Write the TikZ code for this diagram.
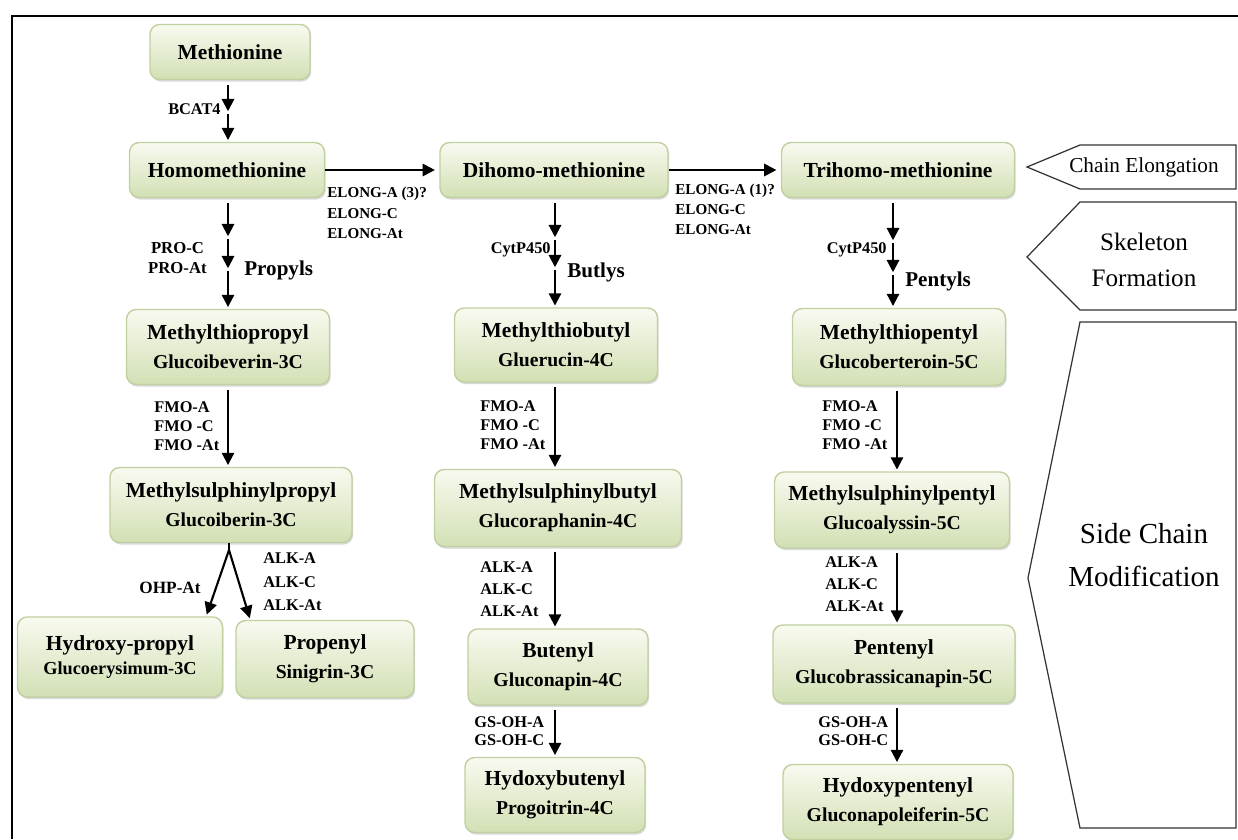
\documentclass[tikz,border=0pt]{standalone}
\usepackage{fontspec}
\setmainfont{Liberation Serif}
\definecolor{boxtop}{RGB}{248, 250, 240}
\definecolor{boxbottom}{RGB}{210, 224, 180}
\definecolor{boxline}{RGB}{192, 208, 160}
\usepackage{tikz}
\usetikzlibrary{arrows.meta, positioning, shadows}

\tikzset{
  compound/.style={draw=boxline, line width=0.8pt, rounded corners=5.5pt, top color=boxtop, bottom color=boxbottom,
    drop shadow={shadow xshift=0.7pt, shadow yshift=-1.2pt, opacity=0.3}, align=center, inner sep=0pt,
    font=\bfseries\fontsize{12.2}{16.5}\selectfont},
  flow/.style={-{Triangle[length=7pt, width=7pt]}, line width=1.2pt, shorten <=2.5pt, shorten >=1pt},
  enzyme/.style={font=\bfseries\fontsize{9.3}{11}\selectfont, align=left, inner sep=0pt},
  group/.style={font=\bfseries\fontsize{12}{14}\selectfont, inner sep=0pt},
  stage/.style={draw=black!80, line width=0.7pt, fill=white},
}
\newcommand{\glsname}[1]{\\{\fontsize{11.2}{16.5}\selectfont #1}}

\begin{document}
\begin{tikzpicture}[x=0.02cm, y=-0.02cm]
  \useasboundingbox (0,0) rectangle (1238,839);
  % Frame
  \draw[line width=1.2pt] (1238,16) -- (12,16) -- (12,839);

  % Columns of the pathway
  \coordinate (col1) at (228,0);
  \coordinate (col2) at (555,0);
  \coordinate (col3) at (897,0);

  % Chain elongation
  \node[compound, minimum width=3.2cm, minimum height=1.1cm] (meth) at (230,52) {Methionine};
  \node[compound, minimum width=3.9cm, minimum height=1.1cm] (homo) at (227,170) {Homomethionine};
  \node[compound, minimum width=4.56cm, minimum height=1.1cm] (dihomo) at (554,170) {Dihomo-methionine};
  \node[compound, minimum width=4.66cm, minimum height=1.1cm] (trihomo) at (898,170) {Trihomo-methionine};

  \coordinate (bc) at (228,113);
  \draw[flow] (meth.south -| bc) -- (bc);
  \draw[flow, shorten <=0.5pt] (bc) -- (homo.north -| bc);
  \node[enzyme, anchor=east] (bcat) at (221,109) {BCAT4};

  \draw[flow, shorten <=0pt, shorten >=2.5pt] (homo) -- (dihomo);
  \draw[flow, shorten <=0pt, shorten >=2.5pt] (dihomo) -- (trihomo);
  \node[enzyme, anchor=west, font=\bfseries\fontsize{8.6}{11.8}\selectfont] (elong1) at (327,213) {ELONG-A (3)?\\ELONG-C\\ELONG-At};
  \node[enzyme, anchor=west, font=\bfseries\fontsize{8.6}{11.3}\selectfont] (elong2) at (675,209) {ELONG-A (1)?\\ELONG-C\\ELONG-At};

  % Skeleton formation
  \node[compound, minimum width=4.06cm, minimum height=1.5cm] (mtpropyl) at (228,347) {Methylthiopropyl\glsname{Glucoibeverin-3C}};
  \node[compound, minimum width=4.06cm, minimum height=1.48cm] (mtbutyl) at (556,345) {Methylthiobutyl\glsname{Gluerucin-4C}};
  \node[compound, minimum width=4.26cm, minimum height=1.54cm] (mtpentyl) at (899,347) {Methylthiopentyl\glsname{Glucoberteroin-5C}};

  \coordinate (p1) at (228,238);
  \coordinate (p2) at (228,270);
  \draw[flow] (homo.south -| p1) -- (p1);
  \draw[flow, shorten <=0.5pt] (p1) -- (p2);
  \draw[flow, shorten <=0.5pt] (p2) -- (mtpropyl.north -| p2);
  \node[enzyme, align=center, anchor=east, font=\bfseries\fontsize{9.5}{11.3}\selectfont] (pro) at (207,258) {PRO-C\\PRO-At};
  \node[group, anchor=west] (propyls) at (244,270) {Propyls};

  \coordinate (q1) at (555,239);
  \coordinate (q2) at (555,269);
  \draw[flow] (dihomo.south -| q1) -- (q1);
  \draw[flow, shorten <=0.5pt] (q1) -- (q2);
  \draw[flow, shorten <=0.5pt] (q2) -- (mtbutyl.north -| q2);
  \node[enzyme, anchor=east] (cyp1) at (551,250) {CytP450};
  \node[group, anchor=west] (butlys) at (567,272) {Butlys};

  \coordinate (r1) at (893,242);
  \coordinate (r2) at (893,274);
  \draw[flow] (trihomo.south -| r1) -- (r1);
  \draw[flow, shorten <=0.5pt] (r1) -- (r2);
  \draw[flow, shorten <=0.5pt] (r2) -- (mtpentyl.north -| r2);
  \node[enzyme, anchor=east] (cyp2) at (887,250) {CytP450};
  \node[group, anchor=west] (pentyls) at (905,281) {Pentyls};

  % Side chain modification
  \node[compound, minimum width=4.84cm, minimum height=1.5cm] (mspropyl) at (231,505) {Methylsulphinylpropyl\glsname{Glucoiberin-3C}};
  \node[compound, minimum width=4.94cm, minimum height=1.54cm] (msbutyl) at (558,508) {Methylsulphinylbutyl\glsname{Glucoraphanin-4C}};
  \node[compound, minimum width=4.7cm, minimum height=1.52cm] (mspentyl) at (892,510) {Methylsulphinylpentyl\glsname{Glucoalyssin-5C}};

  \draw[flow] (mtpropyl.south -| col1) -- (mspropyl.north -| col1);
  \draw[flow] (mtbutyl.south -| col2) -- (msbutyl.north -| col2);
  \draw[flow] (mtpentyl.south -| col3) -- (mspentyl.north -| col3);
  \node[enzyme, anchor=west, font=\bfseries\fontsize{9.3}{10.8}\selectfont] (fmo1) at (154,426) {FMO-A\\FMO -C\\FMO -At};
  \node[enzyme, anchor=west, font=\bfseries\fontsize{9.3}{10.8}\selectfont] (fmo2) at (480,425) {FMO-A\\FMO -C\\FMO -At};
  \node[enzyme, anchor=west, font=\bfseries\fontsize{9.3}{10.8}\selectfont] (fmo3) at (822,425) {FMO-A\\FMO -C\\FMO -At};

  \node[compound, minimum width=4.1cm, minimum height=1.6cm] (hydroxyp) at (120,657) {Hydroxy-propyl\\[-2.5pt]{\fontsize{10.4}{14}\selectfont Glucoerysimum-3C}};
  \node[compound, minimum width=3.56cm, minimum height=1.54cm] (propenyl) at (325,659) {Propenyl\glsname{Sinigrin-3C}};
  \node[compound, minimum width=3.6cm, minimum height=1.52cm] (butenyl) at (558,667) {Butenyl\glsname{Gluconapin-4C}};
  \node[compound, minimum width=4.84cm, minimum height=1.56cm] (pentenyl) at (894,664) {Pentenyl\glsname{Glucobrassicanapin-5C}};

  \coordinate (fork) at (229,550);
  \draw[flow, shorten <=0pt] (fork) -- ([xshift=-0.34cm]hydroxyp.north east);
  \draw[flow, shorten <=0pt] (fork) -- ([xshift=0.3cm]propenyl.north west);
  \draw[line width=1.2pt] (mspropyl.south -| fork) -- (fork);
  \node[enzyme, anchor=east, font=\bfseries\fontsize{9.8}{11}\selectfont] (ohp) at (201,588) {OHP-At};
  \node[enzyme, anchor=west, font=\bfseries\fontsize{9.3}{13.3}\selectfont] (alk1) at (263,582) {ALK-A\\ALK-C\\ALK-At};

  \draw[flow] (msbutyl.south -| col2) -- (butenyl.north -| col2);
  \draw[flow] (mspentyl.south -| col3) -- (pentenyl.north -| col3);
  \node[enzyme, anchor=west, font=\bfseries\fontsize{9.3}{12.7}\selectfont] (alk2) at (480,589) {ALK-A\\ALK-C\\ALK-At};
  \node[enzyme, anchor=west, font=\bfseries\fontsize{9.3}{12.5}\selectfont] (alk3) at (825,584) {ALK-A\\ALK-C\\ALK-At};

  \node[compound, minimum width=3.6cm, minimum height=1.5cm] (hbutenyl) at (555,795) {Hydoxybutenyl\glsname{Progoitrin-4C}};
  \node[compound, minimum width=4.6cm, minimum height=1.5cm] (hpentenyl) at (898,802) {Hydoxypentenyl\glsname{Gluconapoleiferin-5C}};

  \draw[flow] (butenyl.south -| col2) -- (hbutenyl.north -| col2);
  \draw[flow] (pentenyl.south -| col3) -- (hpentenyl.north -| col3);
  \node[enzyme, anchor=west, font=\bfseries\fontsize{9.3}{10.2}\selectfont] (gsoh1) at (474,731) {GS-OH-A\\GS-OH-C};
  \node[enzyme, anchor=west, font=\bfseries\fontsize{9.3}{10.2}\selectfont] (gsoh2) at (818,731) {GS-OH-A\\GS-OH-C};

  % Stage markers
  \draw[stage] (1236,145) -- (1080,145) -- (1027,167) -- (1080,189) -- (1236,189) -- cycle;
  \node[font=\fontsize{12.1}{14}\selectfont] (chain) at (1144,167) {Chain Elongation};
  \draw[stage] (1236,202) -- (1080,202) -- (1027,257) -- (1080,310) -- (1236,310) -- cycle;
  \node[align=center, font=\fontsize{14.3}{20.4}\selectfont] (skel) at (1144,260) {Skeleton\\Formation};
  \draw[stage] (1236,322) -- (1080,322) -- (1028,578) -- (1080,828) -- (1236,828) -- cycle;
  \node[align=center, font=\fontsize{16.5}{24}\selectfont] (side) at (1144,555) {Side Chain\\Modification};
\end{tikzpicture}
\end{document}
